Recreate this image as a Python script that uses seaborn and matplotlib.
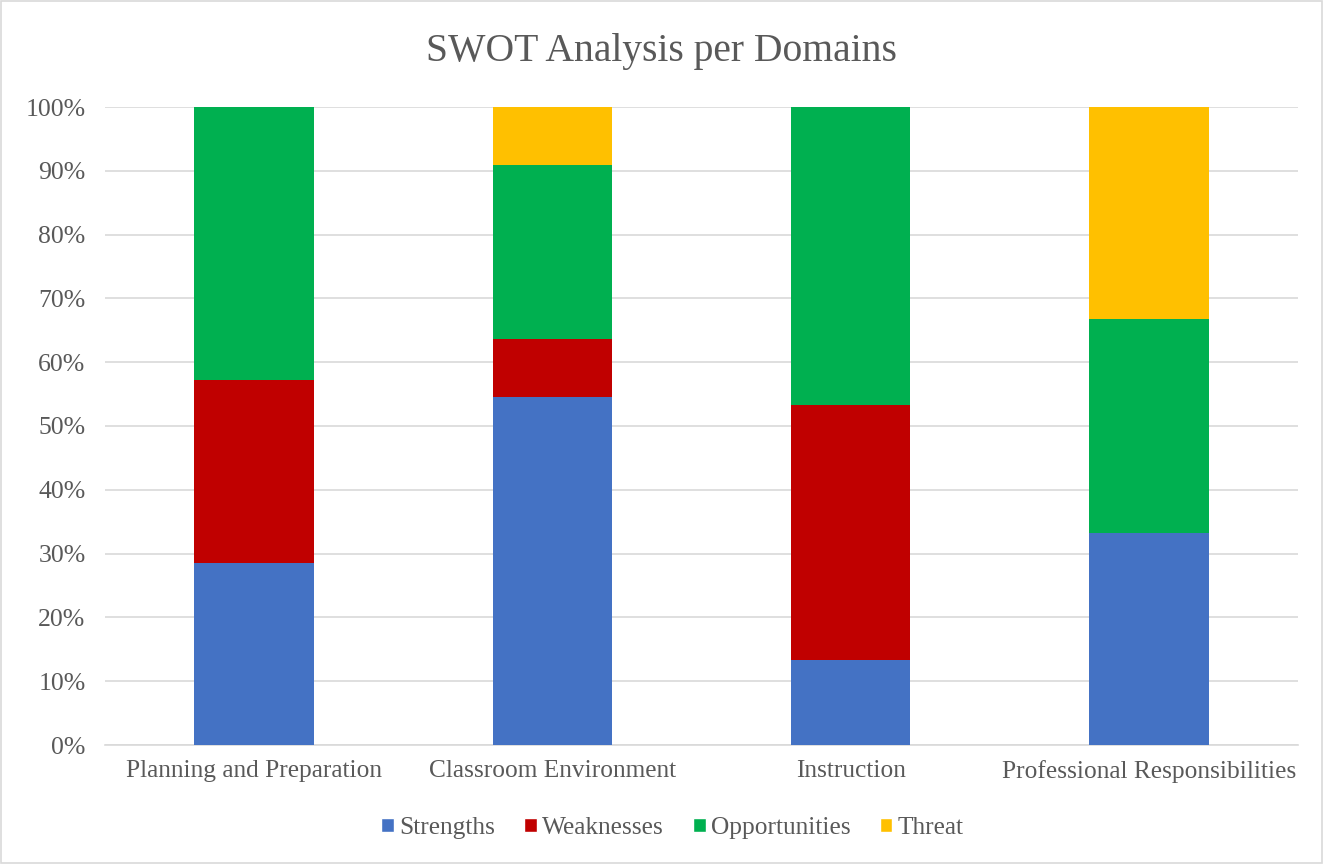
import matplotlib
matplotlib.use("Agg")
import matplotlib.pyplot as plt
import seaborn as sns
import pandas as pd
from matplotlib.patches import Patch

# Data (percent of each domain)
domains = ["Planning and Preparation", "Classroom Environment",
           "Instruction", "Professional Responsibilities"]
strengths = [28.6, 54.5, 13.3, 33.3]
weaknesses = [28.6, 9.1, 40.0, 0.0]
opportunities = [42.8, 27.3, 46.7, 33.4]
threat = [0.0, 9.1, 0.0, 33.3]

series_names = ["Strengths", "Weaknesses", "Opportunities", "Threat"]
colors = ["#4472C4", "#C00000", "#00B050", "#FFC000"]

sns.set_theme(style="white")
plt.rcParams['font.family'] = ['Liberation Serif', 'DejaVu Serif']

fig = plt.figure(figsize=(13.23, 8.64), dpi=100)
ax = fig.add_axes([105 / 1323, 1 - 745 / 864, (1298 - 105) / 1323, (745 - 107) / 864])

df = pd.DataFrame({"domain": domains, "Strengths": strengths, "Weaknesses": weaknesses,
                   "Opportunities": opportunities, "Threat": threat})

# stacked bars, one barplot call per SWOT category
bottom = [0.0] * len(domains)
for name, col in zip(series_names, colors):
    sns.barplot(data=df, x="domain", y=name, color=col, width=0.4,
                bottom=bottom, ax=ax, saturation=1, zorder=3, linewidth=0)
    bottom = [b + v for b, v in zip(bottom, df[name])]

ax.set_ylim(0, 100)
ax.set_xlim(-0.5, 3.5)
ax.set_yticks(range(0, 101, 10))
ax.set_yticklabels([f"{t}%" for t in range(0, 101, 10)], fontsize=18.5, color="#595959")
ax.tick_params(axis="x", labelsize=18.3, labelcolor="#595959", length=0, pad=11)
ax.tick_params(axis="y", length=0, pad=14)
ax.set_xlabel("")
ax.set_ylabel("")
ax.yaxis.grid(True, color="#D9D9D9", linewidth=1.2, zorder=0)
for s in ["top", "right", "left"]:
    ax.spines[s].set_visible(False)
ax.spines["bottom"].set_color("#D9D9D9")
ax.spines["bottom"].set_linewidth(1.2)

fig.text(0.5, 1 - 51 / 864, "SWOT Analysis per Domains", ha="center", va="center",
         fontsize=28.5, color="#595959")

handles = [Patch(facecolor=c, label=n) for n, c in zip(series_names, colors)]
fig.legend(handles=handles, loc="center", bbox_to_anchor=(0.5 + 11 / 1323, 1 - 828 / 864), ncol=4,
           frameon=False, fontsize=18.3, handlelength=0.5, handleheight=0.5,
           handletextpad=0.2, columnspacing=1.15, labelcolor="#595959")

# light grey border around the whole chart
fig.patches.append(plt.Rectangle((0.001, 0.001), 0.998, 0.998, transform=fig.transFigure,
                                 fill=False, edgecolor="#D9D9D9", linewidth=1.2))

fig.savefig("out.png", dpi=100)
